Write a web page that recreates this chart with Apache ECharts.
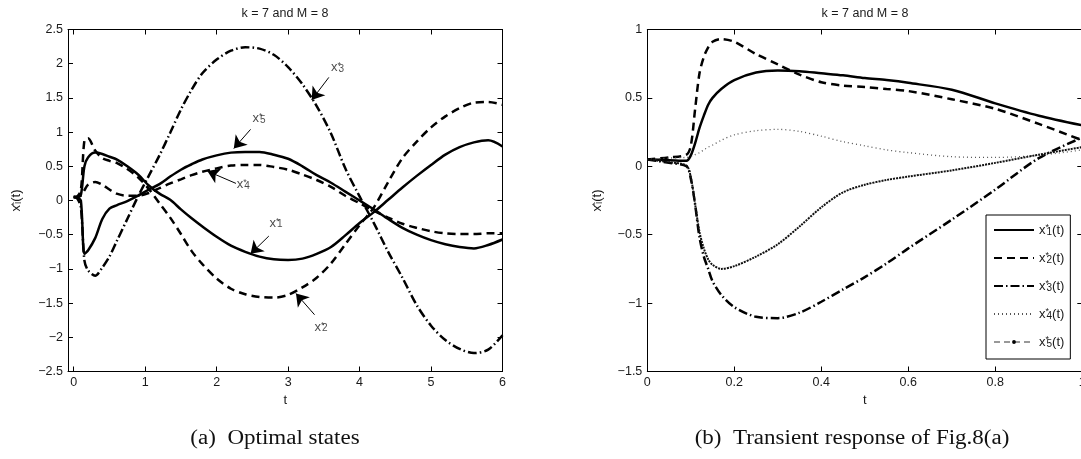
<!DOCTYPE html>
<html><head><meta charset="utf-8">
<script src="https://cdn.jsdelivr.net/npm/echarts@6/dist/echarts.min.js"></script>
<style>html,body{margin:0;padding:0;background:#fff}#c{width:1081px;height:459px}</style>
</head><body><div id="c"></div>
<script>
// ---- Data: (a) optimal states, t in [0, 6] ----
const T_A = [0,0.05,0.1,0.15,0.2,0.3,0.4,0.5,0.6,0.75,0.9,1.05,1.2,1.35,1.5,1.65,1.8,2.0,2.2,2.4,2.6,2.8,3.0,3.2,3.4,3.6,3.8,4.0,4.2,4.4,4.6,4.8,5.0,5.2,5.4,5.6,5.8,6.0];
const A_X1 = [0.05,0.05,0.08,0.50,0.63,0.70,0.68,0.64,0.60,0.50,0.38,0.22,0.10,0.01,-0.13,-0.26,-0.38,-0.53,-0.66,-0.75,-0.82,-0.86,-0.87,-0.85,-0.78,-0.68,-0.51,-0.33,-0.17,0.01,0.19,0.36,0.52,0.67,0.78,0.85,0.88,0.79];
const A_X2 = [0.05,0.06,0.15,0.88,0.91,0.73,0.62,0.58,0.55,0.46,0.34,0.17,-0.04,-0.25,-0.49,-0.74,-0.93,-1.14,-1.29,-1.37,-1.41,-1.42,-1.38,-1.27,-1.13,-0.92,-0.64,-0.36,-0.10,0.27,0.62,0.86,1.07,1.23,1.35,1.43,1.44,1.40];
const A_X3 = [0.05,0.03,-0.10,-0.88,-1.02,-1.10,-0.98,-0.82,-0.60,-0.27,0.06,0.36,0.66,0.99,1.33,1.62,1.86,2.06,2.19,2.24,2.22,2.13,1.95,1.70,1.38,0.98,0.47,0.06,-0.33,-0.75,-1.13,-1.53,-1.83,-2.04,-2.17,-2.23,-2.18,-1.97];
const A_X4 = [0.05,0.05,0.07,0.15,0.23,0.27,0.23,0.16,0.10,0.07,0.07,0.11,0.18,0.25,0.31,0.37,0.42,0.47,0.51,0.52,0.52,0.49,0.45,0.38,0.30,0.20,0.07,-0.04,-0.15,-0.25,-0.34,-0.40,-0.45,-0.48,-0.49,-0.49,-0.48,-0.48];
const A_X5 = [0.05,0.04,0.00,-0.78,-0.73,-0.55,-0.27,-0.12,-0.07,-0.01,0.07,0.16,0.24,0.35,0.45,0.53,0.60,0.66,0.70,0.71,0.71,0.67,0.61,0.50,0.37,0.26,0.13,0.00,-0.13,-0.27,-0.40,-0.50,-0.58,-0.64,-0.68,-0.70,-0.65,-0.57];
const X_TICKS_A = [0,1,2,3,4,5,6];

// ---- Data: (b) transient response, t in [0, 1] ----
const T_B = [0,0.05,0.09,0.1,0.11,0.12,0.13,0.14,0.15,0.17,0.2,0.25,0.3,0.35,0.4,0.45,0.5,0.55,0.6,0.7,0.8,0.9,1.0];
const B_X1 = [0.05,0.045,0.04,0.08,0.17,0.28,0.37,0.45,0.50,0.565,0.63,0.685,0.70,0.695,0.68,0.665,0.645,0.63,0.61,0.56,0.46,0.37,0.30];
const B_X2 = [0.05,0.065,0.085,0.15,0.42,0.68,0.80,0.87,0.91,0.93,0.91,0.82,0.745,0.67,0.615,0.59,0.58,0.565,0.55,0.49,0.42,0.31,0.19];
const B_X3 = [0.05,0.025,0.0,-0.09,-0.28,-0.52,-0.66,-0.75,-0.84,-0.94,-1.03,-1.10,-1.11,-1.07,-0.99,-0.90,-0.81,-0.71,-0.60,-0.39,-0.17,0.06,0.21];
const B_X4 = [0.05,0.06,0.065,0.07,0.085,0.10,0.12,0.14,0.155,0.19,0.23,0.26,0.27,0.255,0.22,0.18,0.15,0.12,0.10,0.07,0.065,0.08,0.12];
const B_X5 = [0.05,0.03,0.005,-0.08,-0.28,-0.48,-0.60,-0.68,-0.72,-0.75,-0.73,-0.66,-0.57,-0.44,-0.30,-0.19,-0.135,-0.10,-0.075,-0.03,0.025,0.085,0.14];

// ---- Annotations in (a): label subscript, label anchor, arrow tail, arrow head ----
const ANNOT_SUB  = ['3','5','4','1','2'];
const ANNOT_TEXT = [[3.60,1.94],[2.50,1.20],[2.28,0.23],[2.74,-0.33],[3.37,-1.85]];
const ANNOT_TAIL = [[3.57,1.80],[2.475,1.04],[2.27,0.25],[2.73,-0.52],[3.37,-1.67]];
const ANNOT_HEAD = [[3.33,1.47],[2.24,0.76],[1.87,0.43],[2.475,-0.78],[3.11,-1.36]];

const TITLE = 'k = 7 and M = 8';
const CAPTION_A = '(a)  Optimal states';
const CAPTION_B = '(b)  Transient response of Fig.8(a)';

const FONT = '"Liberation Sans", Arial, sans-serif';
const INK = '#1a1a1a';
const FS = 12.5;
const pairs = (T, Y) => T.map((t, i) => [t, Y[i]]);
const minus = v => String(v).replace('-', '\u2212');

const rich = {
  s: {fontSize: 9, fontFamily: FONT, color: INK, lineHeight: 9, verticalAlign: 'top', width: 1},
  b: {fontSize: 10, fontFamily: FONT, color: INK, lineHeight: 9, verticalAlign: 'bottom'}
};

const DASH = [8, 5];
const DASHDOT = [9, 3, 1.5, 3];
// small centred dot inside a larger (invisible) bounding box, for the x5 legend marker
const DOT_ICON = 'path://M0,0L0.001,0M10,10L10.001,10M5,3.3A1.7,1.7,0,1,1,5,6.7A1.7,1.7,0,1,1,5,3.3Z';

function ax(grid, pos, min, max, extra, labels) {
  return Object.assign({
    gridIndex: grid, type: 'value', position: pos, min: min, max: max,
    axisLine: {onZero: false, lineStyle: {color: '#000', width: 1}},
    axisTick: {inside: true, length: 5, lineStyle: {color: '#000'}},
    axisLabel: labels ? {color: INK, fontSize: FS, fontFamily: FONT, margin: 5, formatter: minus} : {show: false},
    splitLine: {show: false}
  }, extra || {});
}
const nameStyle = {color: INK, fontSize: 13, fontFamily: FONT, rich: rich};

const option = {
  animation: false,
  backgroundColor: '#fff',
  grid: [
    {left: 68, top: 29.5, width: 434.5, height: 342, outerBoundsMode: 'none', containLabel: false},
    {left: 647.3, top: 29.5, width: 435, height: 342, outerBoundsMode: 'none', containLabel: false}
  ],
  xAxis: [
    (() => { const a = ax(0, 'bottom', -0.08, 6, {name: 't', nameLocation: 'middle', nameGap: 20, nameTextStyle: nameStyle}, true); a.axisTick.customValues = X_TICKS_A; a.axisLabel.customValues = X_TICKS_A; return a; })(),
    (() => { const a = ax(0, 'top', -0.08, 6, null, false); a.axisTick.customValues = X_TICKS_A; return a; })(),
    ax(1, 'bottom', 0, 1, {interval: 0.2, name: 't', nameLocation: 'middle', nameGap: 20, nameTextStyle: nameStyle}, true),
    ax(1, 'top', 0, 1, {interval: 0.2}, false)
  ],
  yAxis: [
    ax(0, 'left', -2.5, 2.5, {interval: 0.5, name: 'x{s|*}{b|i}(t)', nameLocation: 'middle', nameGap: 45, nameRotate: 90, nameTextStyle: nameStyle}, true),
    ax(0, 'right', -2.5, 2.5, {interval: 0.5}, false),
    ax(1, 'left', -1.5, 1, {interval: 0.5, name: 'x{s|*}{b|i}(t)', nameLocation: 'middle', nameGap: 43, nameRotate: 90, nameTextStyle: nameStyle}, true),
    ax(1, 'right', -1.5, 1, {interval: 0.5}, false)
  ],
  legend: {
    data: [
      {name: 'B1', itemStyle: {opacity: 0}},
      {name: 'B2', itemStyle: {opacity: 0}},
      {name: 'B3', itemStyle: {opacity: 0}},
      {name: 'B4', itemStyle: {opacity: 0}},
      {name: 'B5', itemStyle: {color: '#000', borderWidth: 0}, lineStyle: {type: [6, 4], color: '#777', width: 1.5}}
    ],
    orient: 'vertical', left: 986, top: 215, itemWidth: 40, itemHeight: 14, itemGap: 14,
    padding: [8, 6, 10, 7], borderColor: '#000', borderWidth: 1, backgroundColor: '#fff',
    selectedMode: false,
    textStyle: {fontFamily: FONT, fontSize: 13, color: INK, lineHeight: 14, rich: rich},
    formatter: n => 'x{s|*}{b|' + n.slice(1) + '}(t)'
  },
  graphic: [
    {type: 'text', x: 285, y: 14, style: {text: TITLE, font: '12.5px "Liberation Sans"', fill: INK, align: 'center', verticalAlign: 'middle'}},
    {type: 'text', x: 865, y: 14, style: {text: TITLE, font: '12.5px "Liberation Sans"', fill: INK, align: 'center', verticalAlign: 'middle'}},
    {type: 'text', x: 275, y: 439, scaleX: 1.15, style: {text: CAPTION_A, font: '20px "Liberation Serif"', fill: '#111', align: 'center', verticalAlign: 'middle'}},
    {type: 'text', x: 852, y: 439, scaleX: 1.15, style: {text: CAPTION_B, font: '20px "Liberation Serif"', fill: '#111', align: 'center', verticalAlign: 'middle'}}
  ],
  series: [
    {name: 'A1', type: 'line', xAxisIndex: 0, yAxisIndex: 0, data: pairs(T_A, A_X1), symbol: 'none', smooth: 0.3,
      lineStyle: {color: '#000', width: 2.5},
      markLine: {silent: true, symbol: ['none', 'arrow'], symbolSize: 12, precision: 4,
        lineStyle: {color: '#000', width: 1, type: 'solid'}, label: {show: false},
        data: ANNOT_TAIL.map((p, i) => [{coord: p}, {coord: ANNOT_HEAD[i]}])}},
    {name: 'A2', type: 'line', xAxisIndex: 0, yAxisIndex: 0, data: pairs(T_A, A_X2), symbol: 'none', smooth: 0.3,
      lineStyle: {color: '#000', width: 2.5, type: DASH}},
    {name: 'A3', type: 'line', xAxisIndex: 0, yAxisIndex: 0, data: pairs(T_A, A_X3), symbol: 'none', smooth: 0.3,
      lineStyle: {color: '#000', width: 2.5, type: DASHDOT}},
    {name: 'A4', type: 'line', xAxisIndex: 0, yAxisIndex: 0, data: pairs(T_A, A_X4), symbol: 'none', smooth: 0.3,
      lineStyle: {color: '#000', width: 2.5, type: DASH}},
    {name: 'A5', type: 'line', xAxisIndex: 0, yAxisIndex: 0, data: pairs(T_A, A_X5), symbol: 'none', smooth: 0.3,
      lineStyle: {color: '#000', width: 2.5}},
    {name: 'labels', type: 'scatter', xAxisIndex: 0, yAxisIndex: 0, symbolSize: 0, silent: true,
      data: ANNOT_TEXT,
      label: {show: true, position: [0, 0], align: 'left', verticalAlign: 'middle', color: INK, fontSize: 13, fontFamily: FONT,
        rich: rich, formatter: p => 'x{s|*}{b|' + ANNOT_SUB[p.dataIndex] + '}'}},
    {name: 'B1', type: 'line', xAxisIndex: 2, yAxisIndex: 2, data: pairs(T_B, B_X1), symbol: 'none', smooth: 0.3,
      lineStyle: {color: '#000', width: 2.5}, itemStyle: {color: '#000'}},
    {name: 'B2', type: 'line', xAxisIndex: 2, yAxisIndex: 2, data: pairs(T_B, B_X2), symbol: 'none', smooth: 0.3,
      lineStyle: {color: '#000', width: 2.5, type: DASH}, itemStyle: {color: '#000'}},
    {name: 'B3', type: 'line', xAxisIndex: 2, yAxisIndex: 2, data: pairs(T_B, B_X3), symbol: 'none', smooth: 0.3,
      lineStyle: {color: '#000', width: 2.5, type: DASHDOT}, itemStyle: {color: '#000'}},
    {name: 'B4', type: 'line', xAxisIndex: 2, yAxisIndex: 2, data: pairs(T_B, B_X4), symbol: 'none', smooth: 0.3,
      lineStyle: {color: '#555', width: 1.3, type: [1, 3]}, itemStyle: {color: '#555'}},
    {name: 'B5', type: 'line', xAxisIndex: 2, yAxisIndex: 2, data: pairs(T_B, B_X5), symbol: DOT_ICON, symbolSize: 4, showSymbol: false, smooth: 0.3,
      lineStyle: {color: '#111', width: 2, type: [2, 1]}, itemStyle: {color: '#000'}}
  ]
};

const chart = echarts.init(document.getElementById('c'), null, {renderer: 'canvas'});
chart.setOption(option);
</script>
</body></html>
